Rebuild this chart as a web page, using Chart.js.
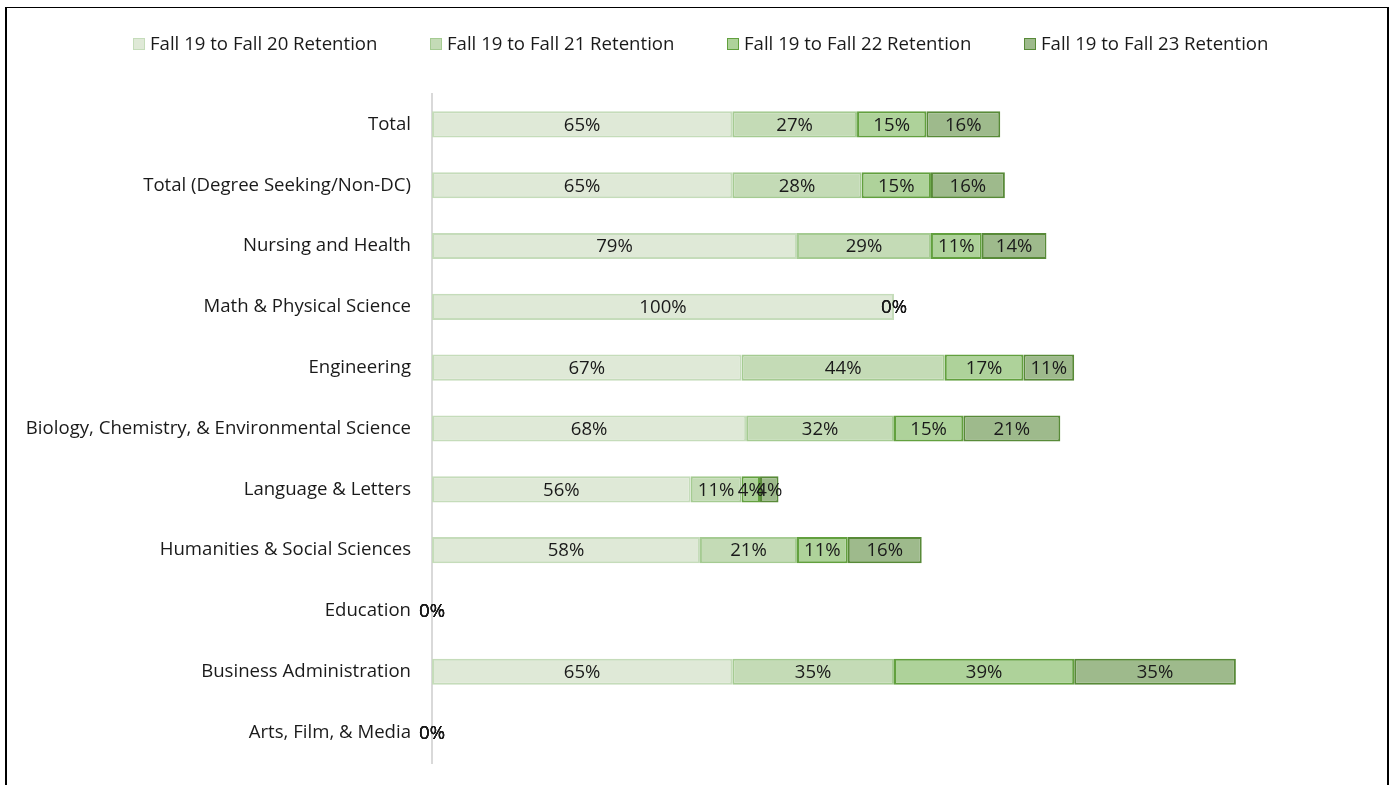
<!DOCTYPE html>
<html>
<head>
<meta charset="utf-8">
<script src="https://cdn.jsdelivr.net/npm/chart.js@4"></script>
<style>
    html, body { margin: 0; padding: 0; background: #fff; overflow: hidden; }
    #wrap { position: relative; width: 1393px; height: 785px; }
    #frame {
        position: absolute; left: 5px; top: 7px; width: 1380px; height: 800px;
        border-top: 1px solid #000; border-left: 2px solid #000; border-right: 2px solid #000;
        pointer-events: none;
    }
    canvas { position: absolute; left: 0; top: 0; }
</style>
</head>
<body>
<div id="wrap">
    <canvas id="retentionChart"></canvas>
    <div id="frame"></div>
</div>
<script>
var categories = [
    'Total',
    'Total (Degree Seeking/Non-DC)',
    'Nursing and Health',
    'Math & Physical Science',
    'Engineering',
    'Biology, Chemistry, & Environmental Science',
    'Language & Letters',
    'Humanities & Social Sciences',
    'Education',
    'Business Administration',
    'Arts, Film, & Media'
];

var seriesNames = [
    'Fall 19 to Fall 20 Retention',
    'Fall 19 to Fall 21 Retention',
    'Fall 19 to Fall 22 Retention',
    'Fall 19 to Fall 23 Retention'
];

var fall20 = [65, 65, 79, 100, 67, 68, 56, 58, 0, 65, 0];
var fall21 = [27, 28, 29, 0, 44, 32, 11, 21, 0, 35, 0];
var fall22 = [15, 15, 11, 0, 17, 15, 4, 11, 0, 39, 0];
var fall23 = [16, 16, 14, 0, 11, 21, 4, 16, 0, 35, 0];

var fillColors = ['rgb(223,233,215)', 'rgb(196,219,182)', 'rgb(174,210,154)', 'rgb(158,186,140)'];
var edgeColors = ['rgb(197,220,186)', 'rgb(165,203,146)', 'rgb(98,160,62)', 'rgb(88,138,56)'];

var FONT = '"Open Sans", "Noto Sans", sans-serif';
var TEXT = '#1a1a1a';
var SIZE = 18.6;

// value labels in the middle of each segment
var barLabels = {
    id: 'barLabels',
    afterDatasetsDraw: function (chart) {
        var ctx = chart.ctx;
        ctx.save();
        ctx.font = SIZE + 'px ' + FONT;
        ctx.fillStyle = TEXT;
        ctx.textAlign = 'center';
        ctx.textBaseline = 'middle';
        chart.data.datasets.forEach(function (ds, i) {
            var meta = chart.getDatasetMeta(i);
            meta.data.forEach(function (bar, j) {
                var v = ds.data[j];
                ctx.fillText(v + '%', (bar.x + bar.base) / 2, bar.y + 1);
            });
        });
        ctx.restore();
    }
};

// single legend row, drawn from the dataset styles
var legendRow = {
    id: 'legendRow',
    afterDraw: function (chart) {
        var ctx = chart.ctx;
        var pitch = 297;
        var box = 12;
        var start = 133;
        var y = 44;
        ctx.save();
        ctx.font = SIZE + 'px ' + FONT;
        ctx.textBaseline = 'middle';
        ctx.textAlign = 'left';
        chart.data.datasets.forEach(function (ds, i) {
            var x = start + i * pitch;
            ctx.fillStyle = ds.backgroundColor;
            ctx.fillRect(x, y - box / 2, box, box);
            ctx.strokeStyle = ds.borderColor;
            ctx.lineWidth = 1;
            ctx.strokeRect(x + 0.5, y - box / 2 + 0.5, box - 1, box - 1);
            ctx.fillStyle = TEXT;
            ctx.fillText(ds.label, x + box + 5, y + 1);
        });
        ctx.restore();
    }
};

document.addEventListener('DOMContentLoaded', function () {
    var el = document.getElementById('retentionChart');
    el.width = 1393;
    el.height = 785;

    var allSeries = [fall20, fall21, fall22, fall23];

    var chart = new Chart(el, {
        type: 'bar',
        data: {
            labels: categories,
            datasets: allSeries.map(function (vals, i) {
                return {
                    label: seriesNames[i],
                    data: vals,
                    backgroundColor: fillColors[i],
                    borderColor: edgeColors[i],
                    borderWidth: 2,
                    borderSkipped: false,
                    barPercentage: 0.43,
                    categoryPercentage: 1
                };
            })
        },
        options: {
            indexAxis: 'y',
            responsive: false,
            maintainAspectRatio: false,
            animation: false,
            layout: {
                padding: { top: 94, bottom: 22, left: 0, right: 37 }
            },
            plugins: {
                legend: { display: false },
                tooltip: { enabled: false }
            },
            scales: {
                x: {
                    stacked: true,
                    min: 0,
                    max: 200,
                    display: false
                },
                y: {
                    stacked: true,
                    afterFit: function (scale) {
                        scale.width = 432;
                        scale.paddingTop = 0;
                        scale.paddingBottom = 0;
                    },
                    grid: { display: false, drawTicks: false },
                    border: { display: true, color: '#d9d9d9', width: 2 },
                    ticks: {
                        padding: 21,
                        color: TEXT,
                        font: { family: FONT, size: SIZE }
                    }
                }
            }
        },
        plugins: [barLabels, legendRow]
    });
});
</script>
</body>
</html>
